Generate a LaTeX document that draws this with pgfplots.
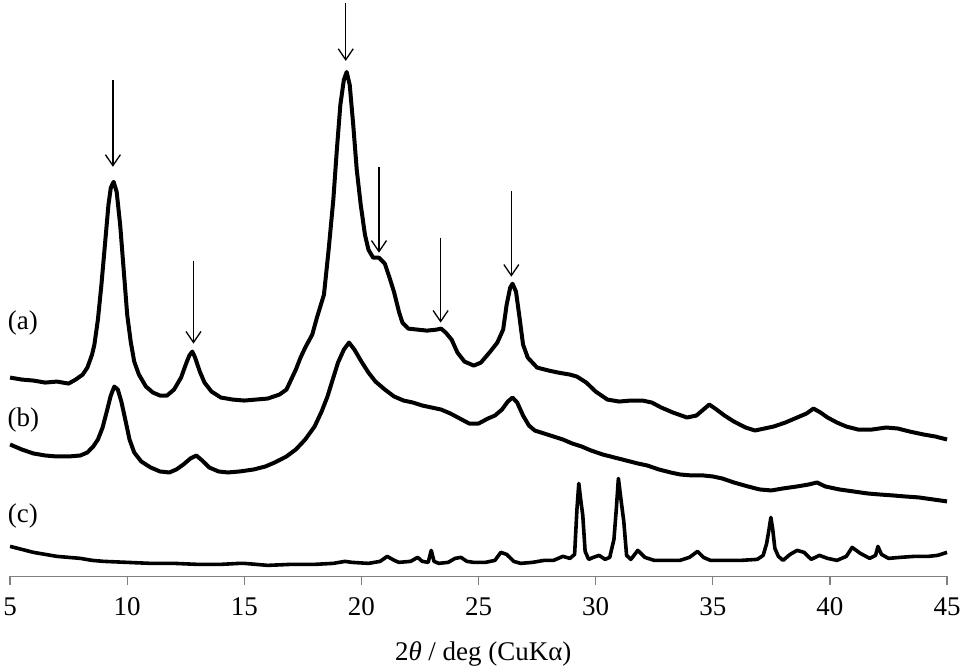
\documentclass[border=0pt]{standalone}
\usepackage{fontspec}
\setmainfont{Liberation Serif}
\usepackage{pgfplots}
\pgfplotsset{compat=1.18}
\usetikzlibrary{arrows.meta}
\tikzset{pk/.style={line width=1.3pt, -{Straight Barb[length=11pt,width=15pt,line width=1.3pt]}}}
\begin{document}
\begin{tikzpicture}
\begin{axis}[
  scale only axis, width=938pt, height=577pt,
  xmin=5, xmax=45, ymin=0, ymax=577,
  axis x line=bottom, axis y line=none,
  x axis line style={-, black!50, line width=1.2pt},
  xtick={5,10,...,45},
  tick align=outside,
  major tick length=9pt,
  xtick style={black!50, line width=1.2pt},
  ticklabel style={font=\fontsize{27}{31}\selectfont, yshift=-9pt},
  /pgf/number format/assume math mode=true,
  clip=false,
]
\path (axis cs:4.616,-94) rectangle (axis cs:45.725,577);
% (a)
\addplot[black, line width=4pt, line join=round] coordinates {
(5.0,199)(5.5,197)(6.0,196)(6.5,194)(7.0,195)(7.5,193)(7.8,197)(8.1,202)(8.3,209)(8.5,222)(8.6,232)(8.75,257)(8.9,292)(9.05,332)(9.2,372)(9.3,389)(9.42,395)(9.55,385)(9.7,352)(9.85,307)(10.0,262)(10.15,235)(10.3,215)(10.5,202)(10.8,190)(11.1,184)(11.4,181)(11.7,181)(12.0,187)(12.3,199)(12.5,212)(12.65,221)(12.78,225)(12.9,219)(13.1,205)(13.3,194)(13.6,185)(14.0,179)(14.5,177)(15.0,176)(15.5,177)(16.0,178)(16.5,182)(16.8,187)(17.0,197)(17.2,207)(17.4,219)(17.6,229)(17.9,242)(18.1,259)(18.4,282)(18.6,327)(18.8,377)(18.95,427)(19.1,472)(19.25,497)(19.37,505)(19.5,492)(19.65,452)(19.8,407)(19.97,372)(20.15,342)(20.3,327)(20.5,319)(20.75,319)(21.0,313)(21.2,299)(21.4,284)(21.6,265)(21.75,254)(22.0,248)(22.4,247)(22.8,246)(23.2,247)(23.4,248)(23.6,244)(23.85,237)(24.1,224)(24.4,215)(24.8,211)(25.1,214)(25.5,225)(25.8,234)(26.05,247)(26.2,272)(26.35,289)(26.45,293)(26.6,285)(26.75,259)(26.9,232)(27.1,219)(27.5,209)(28.0,206)(28.4,204)(28.9,202)(29.2,200)(29.6,194)(30.0,185)(30.5,177)(31.0,175)(31.5,176)(32.0,176)(32.4,174)(32.8,169)(33.3,164)(33.9,159)(34.3,161)(34.6,167)(34.85,172)(35.1,168)(35.5,161)(35.9,155)(36.4,149)(36.8,146)(37.2,148)(37.6,150)(38.1,154)(38.6,159)(39.0,163)(39.3,168)(39.6,164)(39.9,159)(40.3,154)(40.7,150)(41.2,147)(41.8,147)(42.4,149)(42.9,148)(43.4,145)(44.0,142)(44.5,140)(45.0,137)
};
% (b)
\addplot[black, line width=4pt, line join=round] coordinates {
(5.0,132)(5.5,127)(6.0,123)(6.5,121)(7.0,120)(7.5,120)(8.0,121)(8.3,124)(8.55,130)(8.75,137)(8.95,149)(9.15,167)(9.3,181)(9.45,190)(9.6,187)(9.75,175)(9.9,159)(10.1,137)(10.3,124)(10.6,115)(11.0,109)(11.4,105)(11.8,104)(12.1,107)(12.4,112)(12.7,118)(12.95,121)(13.2,116)(13.5,109)(13.9,105)(14.3,104)(14.8,105)(15.4,107)(15.9,110)(16.3,114)(16.8,120)(17.2,127)(17.6,137)(18.0,150)(18.3,165)(18.55,180)(18.8,199)(19.0,214)(19.25,227)(19.47,234)(19.7,227)(20.0,215)(20.3,204)(20.6,195)(21.0,187)(21.4,180)(21.8,176)(22.2,174)(22.6,171)(23.0,169)(23.4,167)(23.8,163)(24.2,158)(24.6,153)(25.0,153)(25.4,158)(25.7,161)(26.0,167)(26.25,175)(26.45,179)(26.65,174)(26.9,161)(27.15,151)(27.4,146)(27.8,143)(28.2,140)(28.6,137)(29.0,133)(29.4,130)(29.8,126)(30.3,122)(30.8,119)(31.3,116)(31.8,113)(32.2,111)(32.7,107)(33.2,104)(33.6,102)(34.1,101)(34.6,101)(35.0,100)(35.4,98)(35.9,94)(36.5,90)(37.0,87)(37.5,86)(38.0,88)(38.6,90)(39.1,92)(39.45,94)(39.8,90)(40.4,87)(41.0,85)(41.6,83)(42.1,82)(42.7,81)(43.2,80)(43.8,79)(44.4,77)(45.0,75)
};
% (c)
\addplot[black, line width=3.6pt, line join=round] coordinates {
(5.0,30)(5.5,27)(6.0,24)(6.5,22)(7.0,20)(7.5,19)(8.0,18)(8.5,16)(9.0,15)(10.0,14)(11.0,13)(12.0,13)(13.0,12)(14.0,12)(14.8,13)(15.0,13)(15.5,12)(16.0,11)(17.0,12)(18.0,12)(18.8,13)(19.3,15)(19.6,14)(20.3,13)(20.8,15)(21.1,20)(21.4,16)(21.6,14)(22.1,15)(22.4,19)(22.6,15)(22.85,14)(22.98,26)(23.1,15)(23.3,13)(23.7,14)(24.0,18)(24.25,19)(24.5,15)(24.8,14)(25.3,14)(25.7,16)(25.95,24)(26.2,22)(26.5,15)(26.8,13)(27.3,14)(27.8,16)(28.2,16)(28.6,20)(28.9,18)(29.1,22)(29.2,67)(29.28,93)(29.36,77)(29.45,61)(29.55,25)(29.7,17)(29.9,19)(30.15,21)(30.4,17)(30.6,19)(30.78,37)(30.88,67)(30.97,98)(31.08,77)(31.2,55)(31.32,21)(31.5,17)(31.8,26)(32.1,19)(32.5,16)(33.0,16)(33.6,16)(34.0,19)(34.35,25)(34.6,19)(34.9,16)(35.5,16)(36.2,16)(36.9,17)(37.15,21)(37.3,33)(37.4,47)(37.48,59)(37.56,47)(37.65,28)(37.8,20)(38.0,16)(38.3,22)(38.6,26)(38.9,24)(39.2,17)(39.55,21)(39.9,18)(40.3,16)(40.7,20)(40.95,29)(41.3,23)(41.7,18)(41.95,21)(42.05,30)(42.2,22)(42.5,18)(43.0,19)(43.6,20)(44.2,20)(44.6,21)(45.0,24)
};
% arrows
\draw[pk] (axis cs:9.39,497) -- (axis cs:9.39,410);
\draw[pk] (axis cs:12.83,316) -- (axis cs:12.83,233);
\draw[pk] (axis cs:19.33,574) -- (axis cs:19.33,516);
\draw[pk] (axis cs:20.75,410) -- (axis cs:20.75,324);
\draw[pk] (axis cs:23.38,339) -- (axis cs:23.38,254);
\draw[pk] (axis cs:26.4,386) -- (axis cs:26.4,300);
\node[font=\fontsize{27}{31}\selectfont] at (axis cs:5.55,254) {(a)};
\node[font=\fontsize{27}{31}\selectfont] at (axis cs:5.57,157) {(b)};
\node[font=\fontsize{27}{31}\selectfont] at (axis cs:5.55,60) {(c)};
\node[font=\fontsize{27}{31}\selectfont] at (axis cs:25.2,-78) {2\textit{θ} / deg (CuKα)};
\end{axis}
\end{tikzpicture}
\end{document}
